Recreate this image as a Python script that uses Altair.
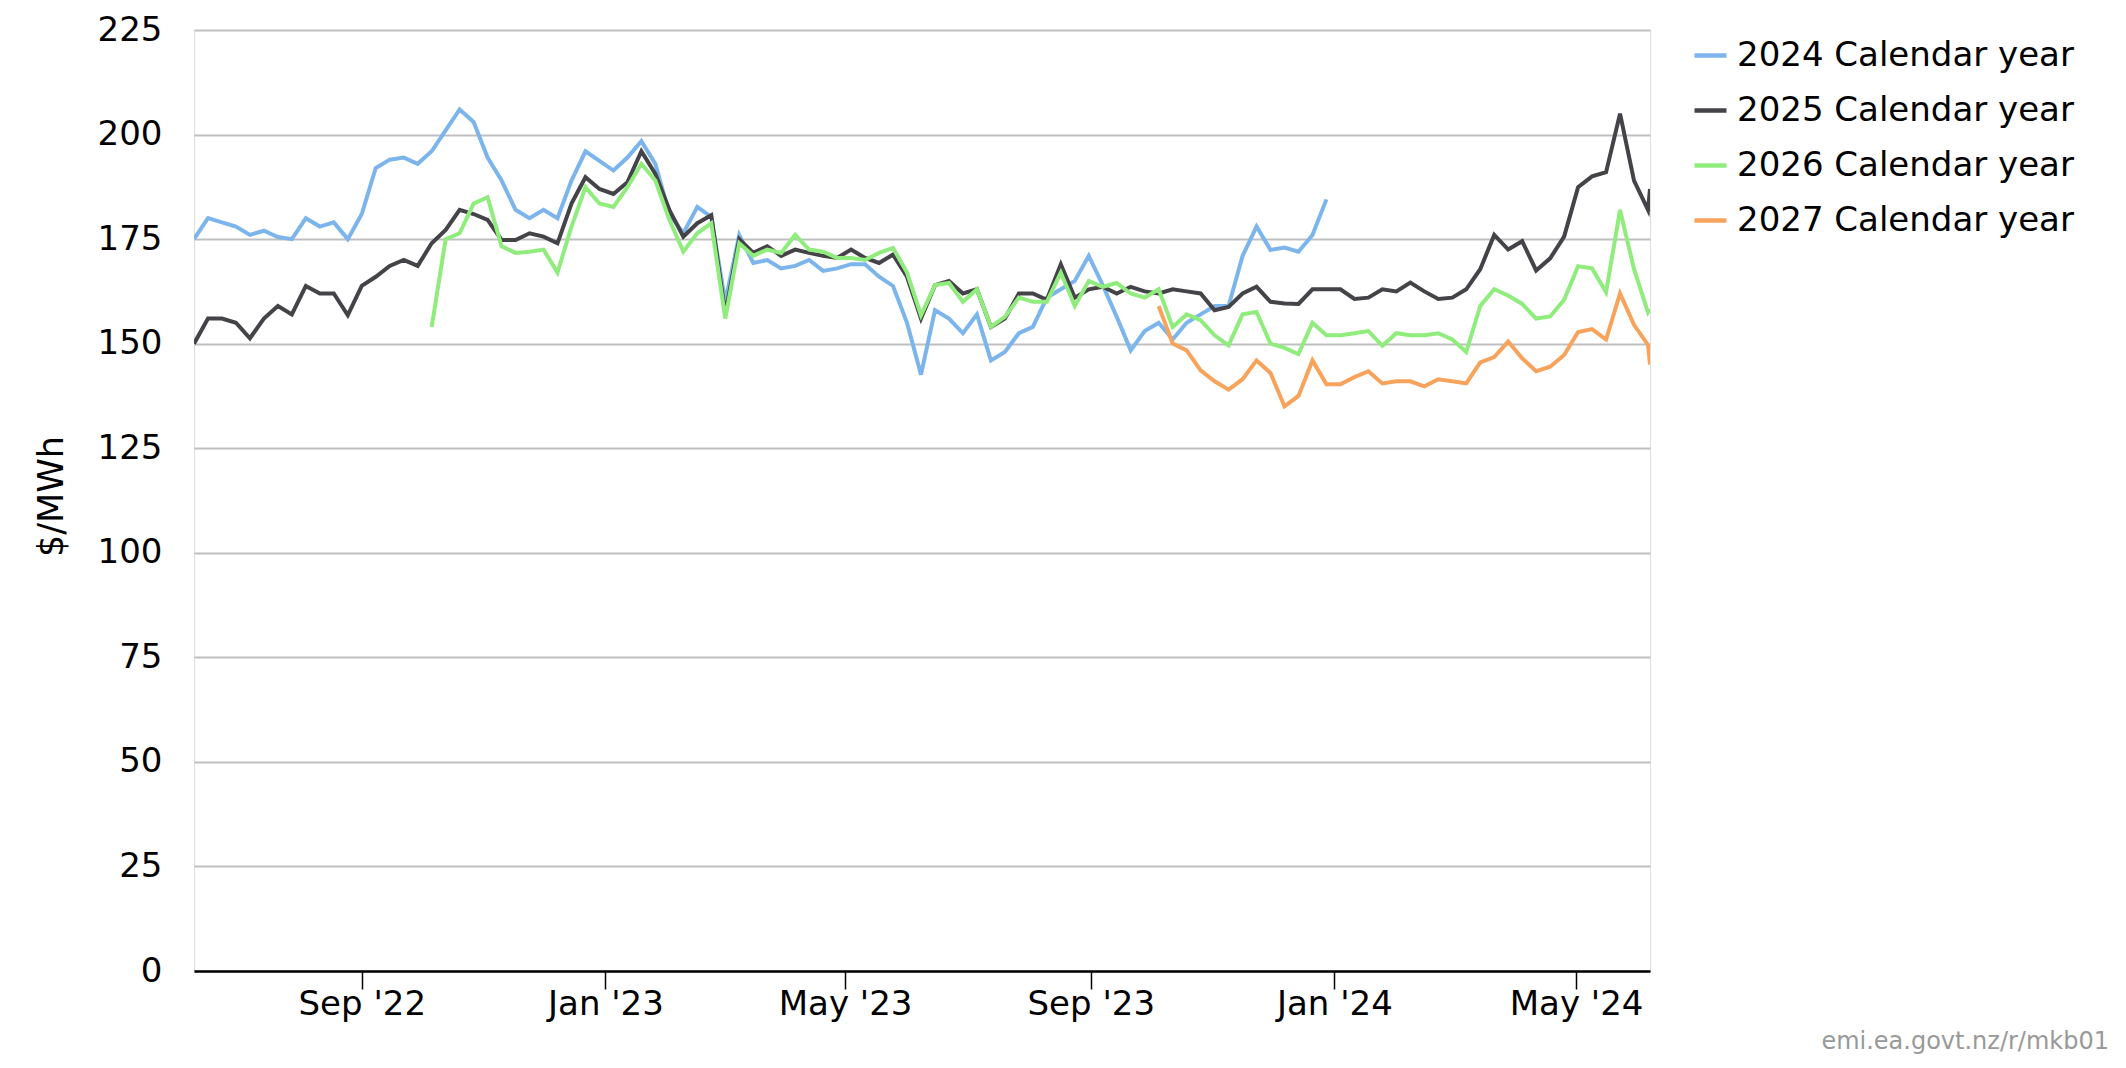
import altair as alt
import pandas as pd

# ---- data (weekly readings from the reference) ----
start_date = "2022-06-09"
n_weeks = 105
end_date = "2024-06-07"

series_names = ["2024 Calendar year", "2025 Calendar year",
                "2026 Calendar year", "2027 Calendar year"]
series_colors = ["#7cb5ec", "#434348", "#90ed7d", "#f7a35c"]
series_start_week = [0, 0, 17, 69]

s2024 = [175, 180, 179, 178, 176, 177, 175.5, 175, 180, 178,
         179, 175, 181, 192, 194, 194.5, 193, 196, 201, 206,
         203, 194.5, 189, 182, 180, 182, 180, 189, 196, 193.7,
         191.4, 194.5, 198.4, 193, 181, 176.4, 182.7, 180.3, 160, 176,
         169.3, 170, 168, 168.6, 170, 167.4, 168, 169, 169, 166,
         163.8, 155, 142.6, 158, 156, 152.5, 157, 146, 148, 152.5,
         154, 161, 163, 165, 171, 164, 156.4, 148.4, 153, 155,
         151, 155, 157, 159, 159, 171, 178, 172.4, 173, 172,
         176, 184.5]

s2025 = [150, 156, 156, 155, 151.3, 156, 159, 157, 163.8, 162,
         162, 156.8, 163.8, 166, 168.6, 170, 168.6, 174, 177.2, 182,
         181, 179.6, 174.8, 174.8, 176.4, 175.6, 174, 183.5, 189.8, 187,
         185.8, 188.6, 196, 190.6, 182, 175.6, 178.8, 180.7, 157, 175,
         171.7, 173.3, 171, 172.5, 171.7, 171, 170.5, 172.5, 170.5, 169.3,
         171.3, 166, 156, 164, 165, 162, 163, 154, 156, 162,
         162, 160.5, 169, 161, 163, 163.6, 162, 163.6, 162.5, 162,
         163, 162.5, 162, 158, 158.8, 162, 163.6, 160, 159.6, 159.5,
         163, 163, 163, 160.7, 161, 163, 162.5, 164.6, 162.5, 160.7,
         161, 163, 167.8, 176, 172.5, 174.5, 167.5, 170.4, 175.6, 187.4,
         190, 191, 205, 189, 182,
         187]

s2026 = [154, 175, 176.4, 183.5, 185, 173.3, 171.7, 172, 172.5, 167,
         178, 187.4, 183.5, 182.7, 187.4, 193, 189, 179.6, 172, 176.4,
         178.8, 156, 174, 171, 172.5, 171.7, 176, 172.5, 172, 170.5,
         170.5, 170, 171.7, 172.9, 167, 156.8, 164, 164.5, 160, 163,
         154, 156.4, 161, 160, 160, 167, 159, 165, 163.6, 164.5,
         162, 161, 163, 154, 157, 155.6, 152, 149.6, 157, 157.6,
         150, 149, 147.5, 155, 152, 152, 152.5, 153, 149.5, 152.5,
         152, 152, 152.5, 151, 148, 159, 163, 161.5, 159.5, 156,
         156.5, 160.5, 168.5, 168, 162.3, 182, 167.8, 157.5,
         158.3]

s2027 = [159, 150, 148.4, 143.6, 141, 139, 141.5, 146, 143, 135,
         137.5, 146, 140.3, 140.3, 142, 143.4, 140.5, 141, 141, 139.8,
         141.5, 141, 140.5, 145.5, 146.8, 150.5, 146.5, 143.4, 144.5, 147.3,
         152.8, 153.5, 151, 162, 154.5, 149.7,
         145]

y_ticks = [0, 25, 50, 75, 100, 125, 150, 175, 200, 225]
x_tick_dates = [(2022, 9), (2023, 1), (2023, 5), (2023, 9), (2024, 1), (2024, 5)]
credit = "emi.ea.govt.nz/r/mkb01"

# ---- build table ----
dates = list(pd.date_range(start_date, periods=n_weeks, freq="7D").strftime("%Y-%m-%d")) + [end_date]
rows = []
for name, s0, vals in zip(series_names, series_start_week, [s2024, s2025, s2026, s2027]):
    for i, v in enumerate(vals):
        rows.append({"date": dates[s0 + i], "series": name, "value": v})
df = pd.DataFrame(rows)

FONT = "DejaVu Sans"

lines = alt.Chart(df).mark_line(strokeWidth=4, clip=True).encode(
    x=alt.X("date:T",
            scale=alt.Scale(type="utc",
                            domain=[alt.DateTime(year=2022, month=6, date=9, utc=True),
                                    alt.DateTime(year=2024, month=6, date=7, utc=True)]),
            axis=alt.Axis(title=None, grid=False,
                          values=[alt.DateTime(year=y, month=m, date=1, utc=True) for y, m in x_tick_dates],
                          labelExpr="utcFormat(datum.value, \"%b '%y\")",
                          domainColor="#000000", domainWidth=2.5,
                          tickColor="#000000", tickWidth=1.5, tickSize=18,
                          labelPadding=-2, labelFontSize=34, labelFont=FONT,
                          labelColor="#000000", labelBaseline="top")),
    y=alt.Y("value:Q",
            scale=alt.Scale(domain=[0, 225], nice=False, zero=True),
            axis=alt.Axis(title="$/MWh", values=y_ticks, ticks=False, domain=False,
                          grid=True, gridColor="#bfbfbf", gridWidth=2,
                          labelPadding=32, labelFontSize=34, labelFont=FONT,
                          labelColor="#000000",
                          titleFont=FONT, titleFontSize=35, titleFontWeight="normal",
                          titleColor="#000000", titleX=-125, titleY=466)),
    color=alt.Color("series:N",
                    scale=alt.Scale(domain=series_names, range=series_colors),
                    legend=alt.Legend(title=None, orient="none", legendX=1498, legendY=7,
                                      symbolType="stroke", symbolSize=1024,
                                      symbolStrokeWidth=4.5,
                                      labelFontSize=34, labelFont=FONT, labelLimit=0,
                                      labelColor="#000000", labelOffset=8,
                                      rowPadding=19)),
)

credit_text = alt.Chart(pd.DataFrame({"t": [credit]})).mark_text(
    align="right", baseline="alphabetic", fontSize=24, font=FONT, color="#999999"
).encode(text="t:N", x=alt.value(1915), y=alt.value(1019))

chart = alt.layer(lines, credit_text).properties(
    width=1456, height=941,
    autosize=alt.AutoSizeParams(type="none"),
    padding={"left": 186, "top": 22, "right": 460, "bottom": 85},
).configure_view(stroke=None).configure(background="#ffffff")

chart.save("out.html", embed_options={"renderer": "svg", "actions": False})
